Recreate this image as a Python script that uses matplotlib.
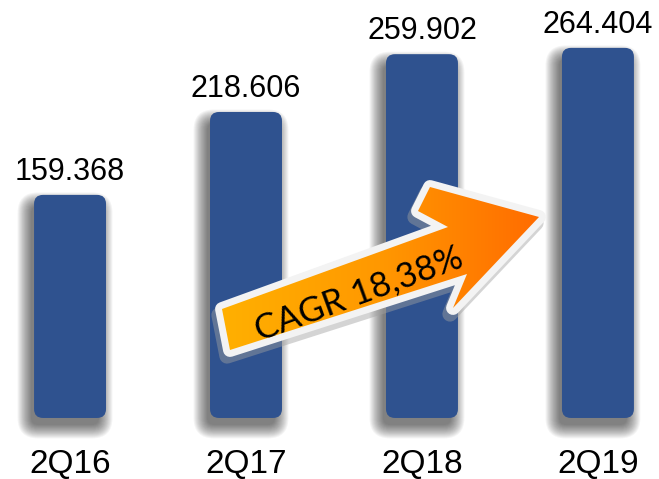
import numpy as np
import matplotlib
matplotlib.use('Agg')
import matplotlib.pyplot as plt
from matplotlib.patches import FancyBboxPatch, Polygon
from matplotlib.transforms import Affine2D
from matplotlib.colors import LinearSegmentedColormap

# ---- data ----
categories = ['2Q16', '2Q17', '2Q18', '2Q19']
values = [159.368, 218.606, 259.902, 264.404]
value_labels = ['159.368', '218.606', '259.902', '264.404']
cagr_label = 'CAGR 18,38%'

W, H = 659, 479
fig = plt.figure(figsize=(W / 100, H / 100), dpi=100)
ax = fig.add_axes([0, 0, 1, 1])
ax.set_xlim(-0.398, 3.347)
ax.set_ylim(-43.6, 298.6)
ax.axis('off')

px_x = W / (3.347 + 0.398)
px_y = H / (298.6 + 43.6)
aspect = px_x / px_y

bar_color = '#2F528F'
bars = ax.bar(range(len(values)), values, width=0.409, color='none', edgecolor='none')

for i, b in enumerate(bars):
    x0, y0, w, h = b.get_x(), b.get_y(), b.get_width(), b.get_height()
    b.set_visible(False)
    # soft drop shadow (down-left)
    shift = ax.transData + Affine2D().translate(-5, -9)
    for k in range(16):
        pad = k * 0.9 - 2
        sh = FancyBboxPatch((x0, y0), w, h,
                            boxstyle=f"round,pad={pad / px_x},rounding_size={max(9 + pad, 4) / px_x}",
                            mutation_aspect=aspect, fc='black', ec='none',
                            alpha=0.04, transform=shift, zorder=1)
        ax.add_patch(sh)
    p = FancyBboxPatch((x0, y0), w, h,
                       boxstyle=f"round,pad=0,rounding_size={9 / px_x}",
                       mutation_aspect=aspect, fc=bar_color, ec='none', zorder=2)
    ax.add_patch(p)
    ax.annotate(value_labels[i], (x0 + w / 2, y0 + h), xytext=(0, 15),
                textcoords='offset pixels', ha='center', va='baseline',
                fontsize=22, family='Liberation Sans', color='black', zorder=3)
    ax.annotate(categories[i], (x0 + w / 2, 0), xytext=(0, -55),
                textcoords='offset pixels', ha='center', va='baseline',
                fontsize=24, family='Liberation Sans', color='black', zorder=3)

# ---- decorative CAGR arrow (pixel overlay) ----
ov = fig.add_axes([0, 0, 1, 1], zorder=5)
ov.set_xlim(0, W)
ov.set_ylim(H, 0)
ov.axis('off')
ov.patch.set_alpha(0)

pts = np.array([(222, 309), (448, 227), (418, 211), (430, 187), (539, 217),
                (453, 308), (467, 274), (230, 350)])

shadow = Polygon(pts + np.array([-3, 6]), closed=True, fc='#a0a0a0', ec='#a0a0a0',
                 lw=11, joinstyle='round', alpha=0.45, zorder=1)
ov.add_patch(shadow)
outline = Polygon(pts, closed=True, fc='#f3f3f3', ec='#f3f3f3', lw=10,
                  joinstyle='round', zorder=2)
ov.add_patch(outline)
fillpoly = Polygon(pts, closed=True, fc='none', ec='none', zorder=3)
ov.add_patch(fillpoly)

cmap = LinearSegmentedColormap.from_list('og', ['#FFB000', '#FF9800', '#FF6C00'])
grad = np.linspace(0, 1, 256).reshape(1, -1)
im = ov.imshow(grad, extent=(pts[:, 0].min(), pts[:, 0].max(), pts[:, 1].max(), pts[:, 1].min()),
               cmap=cmap, aspect='auto', zorder=3)
im.set_clip_path(fillpoly)
ov.set_xlim(0, W)
ov.set_ylim(H, 0)

ov.text(359, 294, cagr_label, rotation=20, rotation_mode='anchor', ha='center', va='center',
        fontsize=25, family='Lato', color='black', zorder=4)

fig.savefig('out.png', dpi=100)
